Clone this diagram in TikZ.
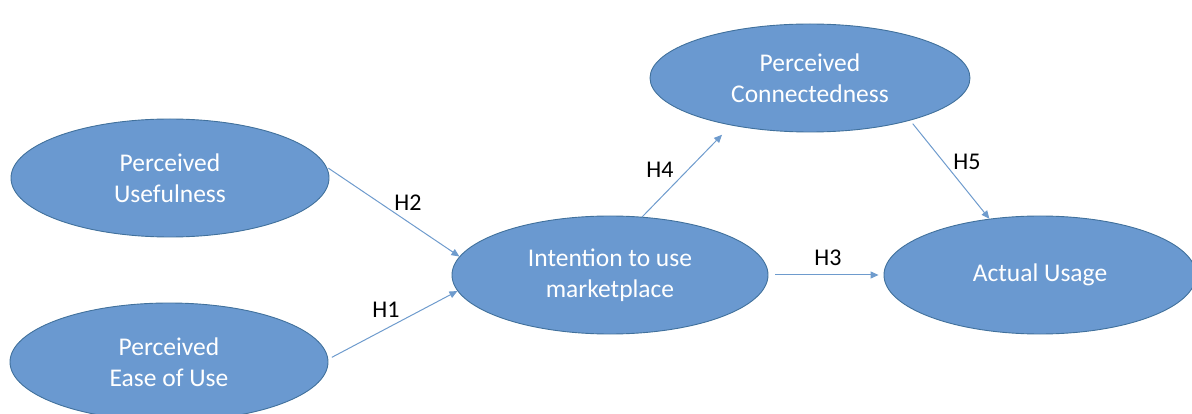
\documentclass[tikz,border=0pt]{standalone}
\usepackage{fontspec}
\setmainfont{Carlito}
\usetikzlibrary{shapes.geometric,arrows.meta}
\definecolor{ellfill}{RGB}{106,153,208}
\definecolor{elldraw}{RGB}{65,113,156}
\definecolor{arrcol}{RGB}{110,155,205}
\tikzset{
  construct/.style={ellipse, draw=elldraw, line width=0.9pt, fill=ellfill,
    text=white, inner sep=0pt, align=center,
    font=\fontsize{25.5}{30.5}\selectfont},
  hyparrow/.style={draw=arrcol, line width=1pt,
    -{Triangle[length=8pt,width=7pt]}},
  hyplabel/.style={text=black, font=\fontsize{24}{28}\selectfont, inner sep=0pt}
}
\begin{document}
\begin{tikzpicture}[x=1pt,y=-1pt]
\useasboundingbox (0,0) rectangle (1192,414);
\node[construct, minimum width=318pt, minimum height=118pt] (pu) at (170,178) {Perceived\\Usefulness};
\node[construct, minimum width=318pt, minimum height=118pt] (peu) at (169,362) {Perceived\\Ease of Use};
\node[construct, minimum width=316pt, minimum height=118pt] (int) at (610,275) {Intention to use\\marketplace};
\node[construct, minimum width=320pt, minimum height=108pt] (pc) at (810,78) {Perceived\\Connectedness};
\node[construct, minimum width=312pt, minimum height=118pt] (au) at (1040,275) {Actual Usage};

\draw[hyparrow, shorten <=2pt] (pu.4) -- (int.173);
\draw[hyparrow, shorten <=4pt] (peu.1.5) -- (int.186.5);
\draw[hyparrow, shorten >=13pt] (int.61) -- (pc.211);
\draw[hyparrow, shorten <=4pt] (pc.337) -- (au.132);
\draw[hyparrow, shorten <=7pt, shorten >=5pt] (int.east) -- (au.west);

\node[hyplabel] (h2) at (408,203) {H2};
\node[hyplabel] (h1) at (386,310) {H1};
\node[hyplabel] (h4) at (660,170) {H4};
\node[hyplabel] (h5) at (967,162) {H5};
\node[hyplabel] (h3) at (828,258) {H3};
\end{tikzpicture}
\end{document}
